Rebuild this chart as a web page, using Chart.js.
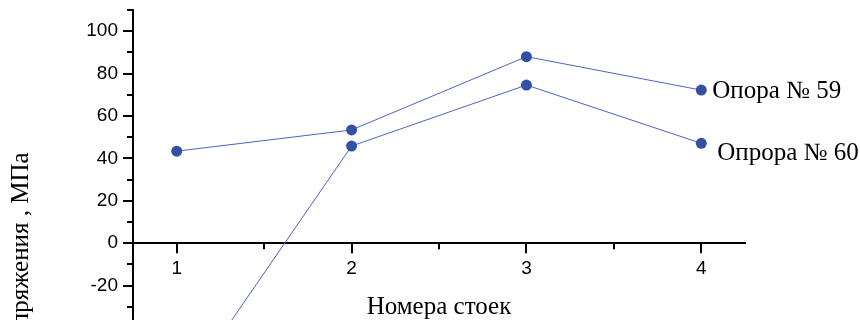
<!DOCTYPE html>
<html>
<head>
<meta charset="utf-8">
<script src="https://cdn.jsdelivr.net/npm/chart.js@4/dist/chart.umd.min.js"></script>
<style>
  html, body { margin: 0; padding: 0; background: #fff; overflow: hidden; }
  #wrap { width: 860px; height: 320px; overflow: hidden; }
</style>
</head>
<body>
<div id="wrap"><canvas id="grafico" width="860" height="503"></canvas></div>
<script>
// номера стоек и напряжения (МПа) для двух опор
var stoyki = [1, 2, 3, 4];
var opora59 = [43.4, 53.4, 88.0, 72.2];
var opora60 = [-74, 45.8, 74.6, 47.1];
var nazvaniya = ['Опора № 59', 'Опрора № 60'];
var xTicks = [1, 2, 3, 4];
var yTicks = [-40, -20, 0, 20, 40, 60, 80, 100];

var sinij = '#3350a5';
var liniya = '#4a64c0';
var serif = '"Liberation Serif", "Times New Roman", serif';
var sans = '"Liberation Sans", Arial, sans-serif';

function tochki(vals){
    return stoyki.map(function(x, i){ return {x: x, y: vals[i]}; });
}

// деления по оси X: целые номера и середины между ними
function deleniyaX(){
    var res = [];
    xTicks.forEach(function(v, i){
        res.push({value: v});
        if (i < xTicks.length - 1) res.push({value: (v + xTicks[i + 1]) / 2});
    });
    return res;
}

// засечки на осях: большие у подписанных значений, малые между ними
var zasechki = {
    id: 'zasechki',
    afterDraw: function(chart){
        var ctx = chart.ctx;
        var sx = chart.scales.x, sy = chart.scales.y;
        var y0 = sy.getPixelForValue(0);
        var x0 = sy.left + sy.width;
        ctx.save();
        ctx.strokeStyle = '#000';
        ctx.lineWidth = 2;
        sx.ticks.forEach(function(t){
            var px = Math.round(sx.getPixelForValue(t.value));
            var len = xTicks.indexOf(t.value) >= 0 ? 10 : 6;
            ctx.beginPath();
            ctx.moveTo(px, y0);
            ctx.lineTo(px, y0 + len);
            ctx.stroke();
        });
        sy.ticks.forEach(function(t){
            var py = Math.round(sy.getPixelForValue(t.value));
            var len = yTicks.indexOf(t.value) >= 0 ? 10 : 6;
            ctx.beginPath();
            ctx.moveTo(x0 - len, py);
            ctx.lineTo(x0, py);
            ctx.stroke();
        });
        ctx.restore();
    }
};

// подписи опор у последней точки каждой линии
var podpisi = {
    id: 'podpisi',
    afterDatasetsDraw: function(chart){
        var ctx = chart.ctx;
        var sdvig = [[11, 1], [16, 10]];
        ctx.save();
        ctx.font = '25px ' + serif;
        ctx.fillStyle = '#000';
        ctx.textBaseline = 'middle';
        ctx.textAlign = 'left';
        chart.data.datasets.forEach(function(ds, i){
            var meta = chart.getDatasetMeta(i);
            var p = meta.data[meta.data.length - 1];
            ctx.fillText(ds.label, p.x + sdvig[i][0], p.y + sdvig[i][1]);
        });
        ctx.restore();
    }
};

function serija(label, vals){
    return {
        label: label,
        data: tochki(vals),
        borderColor: liniya,
        borderWidth: 1,
        backgroundColor: sinij,
        pointBackgroundColor: sinij,
        pointBorderWidth: 0,
        pointRadius: 5.5,
        tension: 0,
        fill: false
    };
}

document.addEventListener('DOMContentLoaded', function(){
    var ctx = document.getElementById('grafico').getContext('2d');
    new Chart(ctx, {
        type: 'line',
        data: {
            datasets: [serija(nazvaniya[0], opora59), serija(nazvaniya[1], opora60)]
        },
        options: {
            responsive: false,
            animation: false,
            devicePixelRatio: 1,
            layout: { padding: { top: 10, right: 115, left: 0, bottom: 0 } },
            plugins: {
                legend: { display: false },
                tooltip: { enabled: false }
            },
            scales: {
                x: {
                    type: 'linear',
                    position: { y: 0 },
                    min: 0.75,
                    max: 4.25,
                    afterBuildTicks: function(s){
                        s.ticks = deleniyaX();
                    },
                    afterFit: function(s){
                        s.height = 79;
                        s.paddingLeft = 0;
                        s.paddingRight = 0;
                    },
                    ticks: {
                        padding: 14,
                        maxRotation: 0,
                        autoSkip: false,
                        color: '#000',
                        font: { family: sans, size: 19 },
                        callback: function(v){ return xTicks.indexOf(v) >= 0 ? String(v) : ''; }
                    },
                    grid: { display: false, drawTicks: false },
                    border: { display: true, color: '#000', width: 2 },
                    title: {
                        display: true,
                        text: 'Номера стоек',
                        color: '#000',
                        font: { family: serif, size: 25 },
                        padding: 0
                    }
                },
                y: {
                    min: -120,
                    max: 110,
                    afterFit: function(s){
                        s.width = 133;
                        s.paddingTop = 0;
                        s.paddingBottom = 0;
                    },
                    ticks: {
                        stepSize: 10,
                        padding: 15,
                        autoSkip: false,
                        color: '#000',
                        font: { family: sans, size: 19 },
                        callback: function(v){ return yTicks.indexOf(v) >= 0 ? String(v) : ''; }
                    },
                    grid: { display: false, drawTicks: false },
                    border: { display: true, color: '#000', width: 2 },
                    title: {
                        display: true,
                        text: 'Напряжения , МПа',
                        color: '#000',
                        font: { family: serif, size: 25 },
                        padding: { top: 6, bottom: 0 }
                    }
                }
            }
        },
        plugins: [zasechki, podpisi]
    });
});
</script>
</body>
</html>
